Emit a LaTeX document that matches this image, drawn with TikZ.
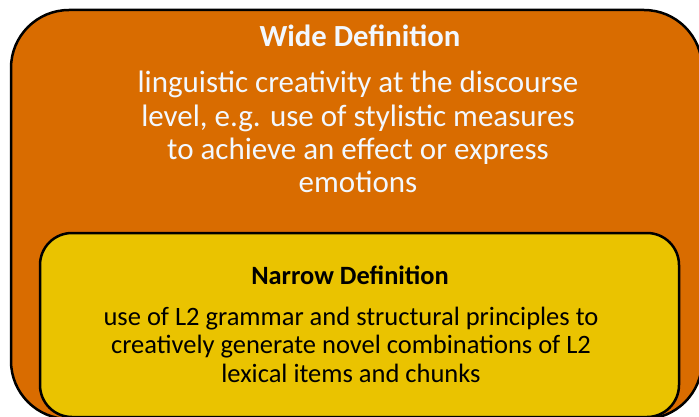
\documentclass[tikz,border=0pt]{standalone}
\usepackage{fontspec}
\setmainfont{Carlito}
\usepackage{xcolor}
\definecolor{wideorange}{HTML}{D96C00}
\definecolor{narrowyellow}{HTML}{EAC300}
\definecolor{paletext}{HTML}{F2F8FF}
\tikzset{
    defbox/.style={draw=black, line width=2.5pt, inner sep=0pt},
    widebox/.style={defbox, fill=wideorange, rounded corners=58pt},
    narrowbox/.style={defbox, fill=narrowyellow, rounded corners=32pt},
    boxtitle/.style={anchor=base, inner sep=0pt, font=\bfseries\fontsize{#1}{#1}\selectfont},
    boxtext/.style={anchor=base, inner sep=0pt, align=center}
}

\begin{document}
\begin{tikzpicture}[x=1pt, y=-1pt]
    \useasboundingbox (0,0) rectangle (699,417);
    % Wide definition (outer box)
    \node[widebox, minimum width=691pt, minimum height=409pt] (wide) at (356.5,214.5) {};
    \node[boxtitle=30.7, text=paletext] (widetitle) at (360,46.7) {Wide Definition};
    % anchor base = last line
    \node[boxtext, text=paletext, font=\fontsize{31}{33.3}\selectfont] (widetext) at (358,192.7) {
        linguistic creativity at the discourse\\
        level, e.g. use of stylistic measures\\
        to achieve an effect or express\\
        emotions
    };

    % Narrow definition (inner box)
    \node[narrowbox, minimum width=639pt, minimum height=184pt] (narrow) at (359.5,325) {};
    \node[boxtitle=26.4] (narrowtitle) at (350,284) {Narrow Definition};
    \node[boxtext, font=\fontsize{26.5}{28.8}\selectfont] (narrowtext) at (351,382.7) {
        use of L2 grammar and structural principles to\\
        creatively generate novel combinations of L2\\
        lexical items and chunks
    };
\end{tikzpicture}
\end{document}
